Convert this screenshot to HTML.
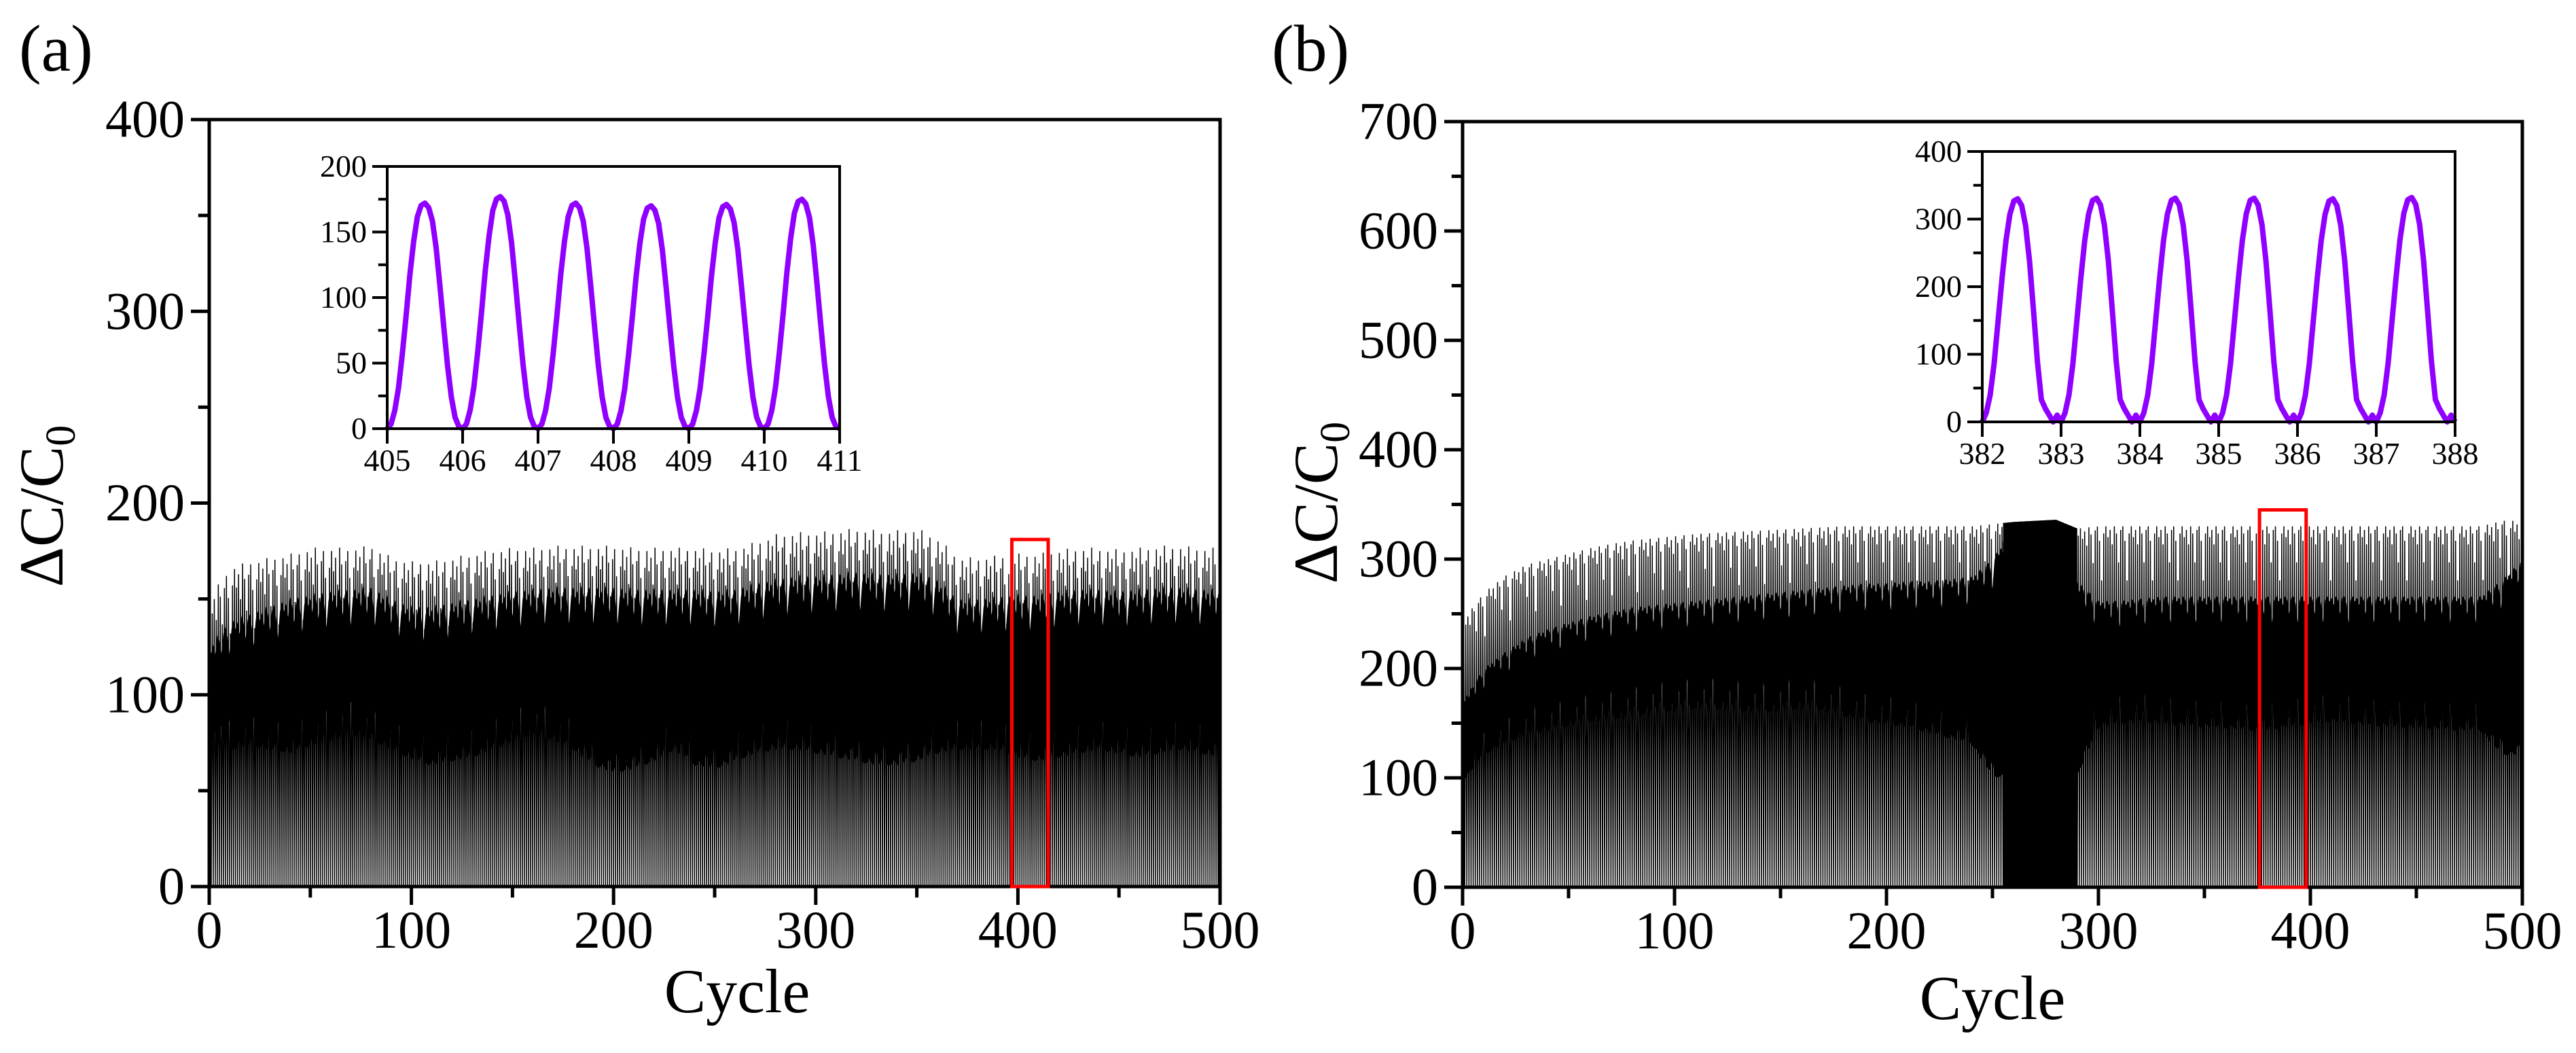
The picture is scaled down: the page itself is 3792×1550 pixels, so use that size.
<!DOCTYPE html>
<html><head><meta charset="utf-8">
<style>
html,body{margin:0;padding:0;background:#fff;}
svg{display:block;}
text{font-family:"Liberation Serif",serif;fill:#000;}
</style></head>
<body>
<svg id="fig" width="3792" height="1550" viewBox="0 0 3792 1550" xmlns="http://www.w3.org/2000/svg">
<rect width="3792" height="1550" fill="#fff"/>
<g id="pa"></g>
<g id="pb"></g>
</svg>
<script>
// ---------- data ----------
const peaksA = [150,165,168,170,172,175,175,175,176,170,168,168,170,172,174,175,175,176,176,176,176,175,175,175,175,174,175,178,182,183,183,184,185,184,184,185,180,170,170,171,172,172,174,175,175,174,175,176,176,175,175];
const peaksB = [245,270,285,295,300,305,310,314,317,319,321,323,324,325,326,327,328,329,330,330,330,330,330,330,330,332,334,335,336,328,330,330,330,330,330,330,330,330,330,330,330,330,330,330,330,330,330,330,330,335,335];
const denseB = [255,290];
// solid middle band limits every 10 cycles (ΔC/C0 values)
const bandLoA = [75,70,72,70,68,72,75,78,75,70,65,62,64,66,70,74,78,75,70,62,58,60,64,70,62,60,64,68,70,70,68,66,64,62,62,64,68,70,70,70,66,64,66,68,70,68,66,68,70,68,66];
const bandHiA = [125,138,142,146,150,152,154,155,156,150,146,146,148,150,152,154,155,156,156,156,156,155,155,155,155,154,155,158,160,162,162,163,164,163,163,164,160,150,150,151,152,152,154,155,155,154,155,156,156,155,155];
const bandLoB = [95,120,130,138,142,146,150,152,155,158,160,162,162,160,158,160,162,160,155,150,148,145,140,135,130,100,100,100,100,100,145,148,150,148,146,145,144,142,142,145,148,150,148,146,145,144,143,142,142,120,120];
const bandHiB = [170,200,215,228,236,242,248,252,256,258,260,262,264,266,268,270,272,274,276,278,278,280,280,282,284,300,330,330,330,280,262,262,264,266,266,266,266,266,266,266,266,266,266,266,266,266,266,266,266,280,300];
// cycle-to-cycle peak scatter (fraction), repeating pattern read from the jagged top edge
const jitterA = [0,-0.06,-0.02,-0.1,0.01,-0.04,-0.14,-0.03,0,-0.08,-0.2,-0.05];
const jitterB = [0,-0.03,-0.01,-0.05,0,-0.02,-0.1,-0.01,0,-0.04,-0.15,-0.02];
const insetAPeaks = [172,177,172,170,171,175];
const insetBPeaks = [330,331,331,331,330,332];
const waveA = [0,0.02,0.08,0.18,0.33,0.5,0.68,0.83,0.94,0.99,1.0,0.98,0.92,0.8,0.63,0.45,0.28,0.14,0.05,0.01,0];
const waveB = [0,0.04,0.12,0.26,0.45,0.64,0.81,0.93,0.99,1.0,0.97,0.88,0.72,0.5,0.27,0.1,0.06,0.03,0.0,0.03,0];
const ticksAY = [0,100,200,300,400];
const ticksBY = [0,100,200,300,400,500,600,700];
const ticksX = [0,100,200,300,400,500];
const insetATicksY = [0,50,100,150,200];
const insetAX = [405,406,407,408,409,410,411];
const insetBTicksY = [0,100,200,300,400];
const insetBX = [382,383,384,385,386,387,388];
const boxA = [397,415,0,181];
const boxB = [376,398,0,345];

const NS="http://www.w3.org/2000/svg";
function el(parent,tag,attrs,txt){const e=document.createElementNS(NS,tag);for(const k in attrs)e.setAttribute(k,attrs[k]);if(txt!==undefined)e.textContent=txt;parent.appendChild(e);return e;}
function lin(d0,d1,r0,r1){return v=>r0+(v-d0)*(r1-r0)/(d1-d0);}
function peakAt(arr,c){const i=c/10;const i0=Math.min(arr.length-1,Math.floor(i));const i1=Math.min(arr.length-1,i0+1);const t=i-i0;return arr[i0]*(1-t)+arr[i1]*t;}

function axes(g,X,Y,x0,x1,y0,y1,xt,yt,xminor,yminor,o){
  const L=X(x0),R=X(x1),T=Y(y1),B=Y(y0);
  const fr=el(g,'path',{d:`M${L},${T}H${R}V${B}H${L}Z`,fill:'none',stroke:'#000','stroke-width':o.w});
  
  
  xt.forEach(v=>{
    el(g,'line',{x1:X(v),x2:X(v),y1:B,y2:B+o.tl,stroke:'#000','stroke-width':o.w});
    const t=el(g,'text',{x:X(v),y:B+o.xlab,'font-size':o.fs,'text-anchor':'middle'},v);
    
    
  });
  xminor.forEach(v=>el(g,'line',{x1:X(v),x2:X(v),y1:B,y2:B+o.tl*0.6,stroke:'#000','stroke-width':o.w}));
  yt.forEach(v=>{
    el(g,'line',{x1:L-o.tl,x2:L,y1:Y(v),y2:Y(v),stroke:'#000','stroke-width':o.w});
    const t=el(g,'text',{x:L-o.ylab,y:Y(v)+o.fs*0.33,'font-size':o.fs,'text-anchor':'end'},v);
    
    
  });
  yminor.forEach(v=>el(g,'line',{x1:L-o.tl*0.6,x2:L,y1:Y(v),y2:Y(v),stroke:'#000','stroke-width':o.w}));
}

function mainSignal(g,X,Y,peaks,jit,lo,hi,dense){
  let bd='';
  for(let c=0;c<=500;c+=1){
    const j=jit[c%jit.length];
    bd+=(c===0?'M':'L')+X(c).toFixed(2)+','+Y(peakAt(hi,c)*(1+j*0.6)).toFixed(1);
  }
  for(let c=500;c>=0;c-=1){
    const j=jit[(c*7)%jit.length];
    bd+='L'+X(c).toFixed(2)+','+Y(peakAt(lo,c)*(1-j*1.2)).toFixed(1);
  }
  const band=el(g,'path',{d:bd+'Z',fill:'#000'});
  
  
  let d='';let n=0;
  for(let c=0;c<500;){
    const inDense=dense&&c>=dense[0]&&c<dense[1];
    const per=inDense?0.25:1;
    const p=peakAt(peaks,c)*(1+jit[n%jit.length]);
    d+=(d===''?'M':'L')+X(c).toFixed(2)+','+Y(0).toFixed(1);
    d+='L'+X(c+per*0.5).toFixed(2)+','+Y(p).toFixed(1);
    c+=per;n++;
  }
  d+='L'+X(500)+','+Y(0);
  const p=el(g,'path',{d:d,fill:'none',stroke:'#000','stroke-width':1.5,'stroke-linejoin':'miter'});
  
  
  if(dense){
    let dd='M'+X(dense[0])+','+Y(0);
    for(let c=dense[0];c<=dense[1];c+=1)dd+='L'+X(c)+','+Y(peakAt(peaks,c));
    dd+='L'+X(dense[1])+','+Y(0)+'Z';
    const r=el(g,'path',{d:dd,fill:'#000'});
    
    
  }
}
function insetSignal(g,X,Y,start,peaks,wave){
  let d='';
  peaks.forEach((p,i)=>{
    for(let k=0;k<wave.length;k++){
      if(i>0&&k===0)continue;
      const cx=start+i+k/(wave.length-1);
      d+=(d===''?'M':'L')+X(cx).toFixed(1)+','+Y(wave[k]*p).toFixed(1);
    }
  });
  const p=el(g,'path',{d:d,fill:'none',stroke:'#8F00FF','stroke-width':8,'stroke-linejoin':'round'});
  
  
}
function range(a,b,s){const r=[];for(let v=a;v<=b+1e-9;v+=s)r.push(v);return r;}

// ---------- panel a ----------
(function(){
  const g=document.getElementById('pa');
  const X=lin(0,500,308,1796), Y=lin(0,400,1305,176);
  mainSignal(g,X,Y,peaksA,jitterA,bandLoA,bandHiA,null);
  axes(g,X,Y,0,500,0,400,ticksX,ticksAY,range(50,450,100),range(50,350,100),{w:5,tl:27,fs:78,xlab:90,ylab:36,pre:'a-'});
  const r=el(g,'rect',{x:X(boxA[0]),y:Y(boxA[3]),width:X(boxA[1])-X(boxA[0]),height:Y(boxA[2])-Y(boxA[3]),fill:'none',stroke:'#f00','stroke-width':5});
  
  
  const ig=el(g,'g',{});
  
  
  el(ig,'rect',{x:570,y:245,width:677,height:386,fill:'#fff'});
  const IX=lin(405,411,570,1236), IY=lin(0,200,631,245);
  insetSignal(ig,IX,IY,405,insetAPeaks,waveA);
  axes(ig,IX,IY,405,411,0,200,insetAX,insetATicksY,[],range(25,175,50),{w:4,tl:22,fs:46,xlab:62,ylab:30,pre:'inset-a-'});
  const lab=el(g,'text',{x:28,y:104,'font-size':98},'(a)');
  
  
  const xt=el(g,'text',{x:1085,y:1490,'font-size':92,'text-anchor':'middle'},'Cycle');
  
  
  const yt=el(g,'text',{transform:'translate(92,745) rotate(-90)','font-size':92,'text-anchor':'middle'});
  
  
  yt.innerHTML='ΔC/C<tspan font-size="62" dy="18">0</tspan>';
})();

// ---------- panel b ----------
(function(){
  const g=document.getElementById('pb');
  const X=lin(0,500,2153,3713), Y=lin(0,700,1306,179);
  mainSignal(g,X,Y,peaksB,jitterB,bandLoB,bandHiB,denseB);
  axes(g,X,Y,0,500,0,700,ticksX,ticksBY,range(50,450,100),range(50,650,100),{w:5,tl:27,fs:78,xlab:90,ylab:36,pre:'b-'});
  const r=el(g,'rect',{x:X(boxB[0]),y:Y(boxB[3]),width:X(boxB[1])-X(boxB[0]),height:Y(boxB[2])-Y(boxB[3]),fill:'none',stroke:'#f00','stroke-width':5});
  
  
  const ig=el(g,'g',{});
  
  
  el(ig,'rect',{x:2918,y:223,width:698,height:398,fill:'#fff'});
  const IX=lin(382,388,2918,3614), IY=lin(0,400,621,223);
  insetSignal(ig,IX,IY,382,insetBPeaks,waveB);
  axes(ig,IX,IY,382,388,0,400,insetBX,insetBTicksY,[],range(50,350,100),{w:4,tl:22,fs:46,xlab:62,ylab:30,pre:'inset-b-'});
  const lab=el(g,'text',{x:1872,y:104,'font-size':98},'(b)');
  
  
  const xt=el(g,'text',{x:2933,y:1500,'font-size':92,'text-anchor':'middle'},'Cycle');
  
  
  const yt=el(g,'text',{transform:'translate(1968,740) rotate(-90)','font-size':92,'text-anchor':'middle'});
  
  
  yt.innerHTML='ΔC/C<tspan font-size="62" dy="18">0</tspan>';
})();
</script>
</body></html>
